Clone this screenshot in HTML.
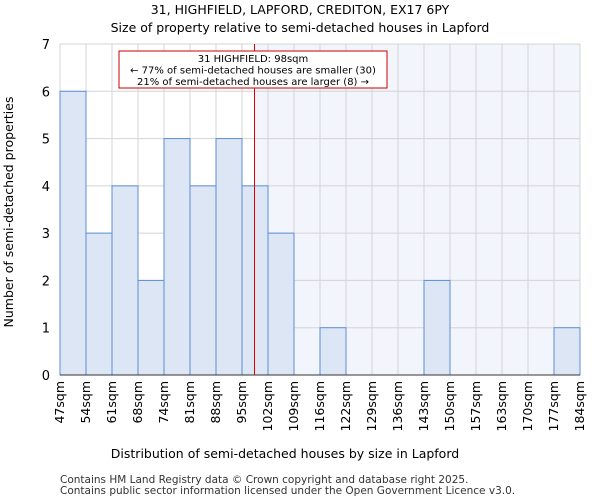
<!DOCTYPE html>
<html><head><meta charset="utf-8"><style>
body{margin:0;background:#fff;font-family:"DejaVu Sans","Liberation Sans",sans-serif;}
</style></head><body>
<svg id="chart" width="600" height="500" xmlns="http://www.w3.org/2000/svg" font-family="DejaVu Sans, Liberation Sans, sans-serif">
<text x="300" y="14" text-anchor="middle" font-size="12.5">31, HIGHFIELD, LAPFORD, CREDITON, EX17 6PY</text>
<text x="300" y="32" text-anchor="middle" font-size="12.5">Size of property relative to semi-detached houses in Lapford</text>
<g id="plot"></g>
<text x="285" y="458" text-anchor="middle" font-size="12.5">Distribution of semi-detached houses by size in Lapford</text>
<text transform="translate(13,212) rotate(-90)" text-anchor="middle" font-size="12.5">Number of semi-detached properties</text>
<text x="60" y="483" font-size="10.5" fill="#333">Contains HM Land Registry data © Crown copyright and database right 2025.</text>
<text x="60" y="494" font-size="10.5" fill="#333">Contains public sector information licensed under the Open Government Licence v3.0.</text>
</svg>
<script>
const categories=["47sqm","54sqm","61sqm","68sqm","74sqm","81sqm","88sqm","95sqm","102sqm","109sqm","116sqm","122sqm","129sqm","136sqm","143sqm","150sqm","157sqm","163sqm","170sqm","177sqm","184sqm"];
const counts=[6,3,4,2,5,4,5,4,3,0,1,0,0,0,2,0,0,0,0,1];
const yTicks=[0,1,2,3,4,5,6,7];
const markerValue=98;
const binStart=47, binWidth=6.85;
const L=60,R=580,T=44,B=375,yMax=7;
const nb=counts.length, bw=(R-L)/nb;
const x=i=>L+i*bw;
const y=v=>B-(v/yMax)*(B-T);
const xv=v=>L+((v-binStart)/binWidth)*bw;
const NS="http://www.w3.org/2000/svg";
const g=document.getElementById('plot');
function mk(t,a){const e=document.createElementNS(NS,t);for(const k in a)e.setAttribute(k,a[k]);g.appendChild(e);return e;}
const mx=Math.round(xv(markerValue))+0.5;
let e=mk('rect',{x:mx,y:T,width:R-mx,height:B-T,fill:'#f3f5fc'});


yTicks.forEach(t=>{
 let l=mk('line',{x1:L,x2:R,y1:y(t),y2:y(t),stroke:'#d4d4d4'});
 
 
 let tx=mk('text',{x:L-10,y:y(t)+5,'text-anchor':'end','font-size':'13'});tx.textContent=t;
 
 
});
for(let i=0;i<=nb;i++){
 let l=mk('line',{x1:x(i),x2:x(i),y1:T,y2:B,stroke:'#d4d4d4'});
 
 
}
counts.forEach((c,i)=>{
 if(c<=0)return;
 let r=mk('rect',{x:x(i),y:y(c),width:bw,height:B-y(c),fill:'#dce6f4',stroke:'#5b8fd6','stroke-width':1});
 
 
});
categories.forEach((c,i)=>{
 let tx=mk('text',{transform:`translate(${x(i)+4},${B+6}) rotate(-90)`,'text-anchor':'end','font-size':'12.5'});tx.textContent=c;
 
 
});
let ax=mk('line',{x1:L,x2:R,y1:B,y2:B,stroke:'#333'});


let ml=mk('line',{x1:mx,x2:mx,y1:T,y2:B,stroke:'#dd0000','stroke-width':1});


let box=mk('rect',{x:119,y:51,width:268,height:37,fill:'#fff',stroke:'#cc0000'});


["31 HIGHFIELD: 98sqm","← 77% of semi-detached houses are smaller (30)","21% of semi-detached houses are larger (8) →"].forEach((s,k)=>{
 let t=mk('text',{x:253,y:62+k*11.5,'text-anchor':'middle','font-size':'10'});t.textContent=s;
 
 
});
</script>
</body></html>
